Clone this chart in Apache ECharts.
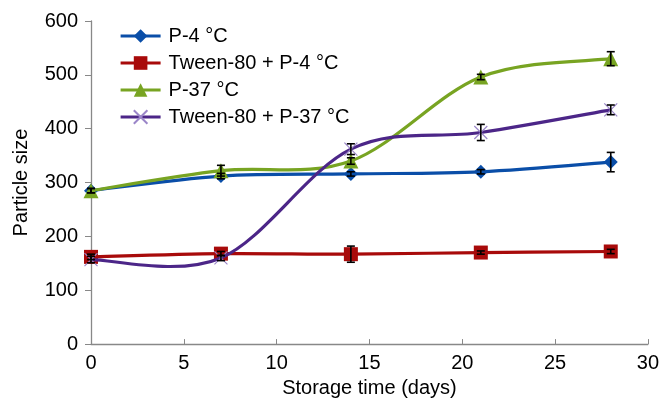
<!DOCTYPE html>
<html><head><meta charset="utf-8">
<script src="https://cdn.jsdelivr.net/npm/echarts@6/dist/echarts.min.js"></script>
<style>html,body{margin:0;padding:0;background:#fff}#c{width:662px;height:403px}</style>
</head><body><div id="c"></div>
<script>
const days = [0, 7, 14, 21, 28];
const seriesNames = ['P-4 °C', 'Tween-80 + P-4 °C', 'P-37 °C', 'Tween-80 + P-37 °C'];
const p4 = [285, 312, 316, 320, 338];
const tweenP4 = [162, 168, 167, 170, 172];
const p37 = [285, 322, 340, 496, 530];
const tweenP37 = [157, 160, 362, 393, 435];
const p4Err = [4, 5, 4, 4, 18];
const tweenP4Err = [5, 4, 15, 3, 4];
const p37Err = [4, 10, 6, 5, 13];
const tweenP37Err = [6, 5, 10, 15, 9];
const yTicks = [0, 100, 200, 300, 400, 500, 600];
const xTicks = [0, 5, 10, 15, 20, 25, 30];

const colors = ['#0a4ea8', '#a80a0a', '#78a422', '#4c2688'];
const symbols = ['diamond', 'rect', 'triangle', 'path://M0,0L10,10M10,0L0,10'];
const symSizes = [14, 14, 15, 13];
const values = [p4, tweenP4, p37, tweenP37];
const errs = [p4Err, tweenP4Err, p37Err, tweenP37Err];
const FONT = 'Liberation Sans';
const FS = 20;
const TENSION = 1 / 6;

const series = [];
values.forEach((vals, i) => {
  // smooth curve (Excel-style cardinal spline) through the data via the axis scales
  series.push({
    type: 'custom', silent: true, z: 2 + 2 * i,
    data: days.map((d, k) => [d, vals[k]]),
    renderItem: function (params, api) {
      const k = params.dataIndex;
      if (k >= days.length - 1) return null;
      const P = days.map((d, j) => api.coord([d, vals[j]]));
      const p0 = P[Math.max(k - 1, 0)], p1 = P[k], p2 = P[k + 1], p3 = P[Math.min(k + 2, P.length - 1)];
      return {
        type: 'bezierCurve',
        shape: {
          x1: p1[0], y1: p1[1], x2: p2[0], y2: p2[1],
          cpx1: p1[0] + (p2[0] - p0[0]) * TENSION, cpy1: p1[1] + (p2[1] - p0[1]) * TENSION,
          cpx2: p2[0] - (p3[0] - p1[0]) * TENSION, cpy2: p2[1] - (p3[1] - p1[1]) * TENSION
        },
        style: { stroke: colors[i], lineWidth: 3.2, fill: null }
      };
    }
  });
  const s = {
    name: seriesNames[i], type: 'line',
    data: days.map((d, k) => [d, vals[k]]),
    symbol: symbols[i], symbolSize: symSizes[i],
    lineStyle: { color: colors[i], width: 3.2, opacity: 0 },
    itemStyle: { color: colors[i] },
    z: 3 + 2 * i
  };
  if (i === 3) {
    s.itemStyle = { color: '#9b86c9', borderColor: '#9b86c9', borderWidth: 1.2 };
  }
  series.push(s);
});
values.forEach((vals, i) => {
  series.push({
    type: 'custom', silent: true, z: 20,
    data: days.map((d, k) => [d, vals[k] - errs[i][k], vals[k] + errs[i][k]]),
    renderItem: function (params, api) {
      const lo = api.coord([api.value(0), api.value(1)]);
      const hi = api.coord([api.value(0), api.value(2)]);
      const w = 4;
      const st = { stroke: '#000', lineWidth: 1.6 };
      return { type: 'group', children: [
        { type: 'line', shape: { x1: lo[0], y1: lo[1], x2: hi[0], y2: hi[1] }, style: st },
        { type: 'line', shape: { x1: lo[0] - w, y1: lo[1], x2: lo[0] + w, y2: lo[1] }, style: st },
        { type: 'line', shape: { x1: hi[0] - w, y1: hi[1], x2: hi[0] + w, y2: hi[1] }, style: st }
      ]};
    }
  });
});

const chart = echarts.init(document.getElementById('c'), null, { renderer: 'canvas' });
chart.setOption({
  animation: false,
  backgroundColor: '#fff',
  textStyle: { fontFamily: FONT },
  grid: { left: 91, right: 14, top: 21, bottom: 58 },
  legend: {
    data: seriesNames, orient: 'vertical', left: 119, top: 26, padding: 0,
    itemWidth: 40, itemHeight: 17, itemGap: 7,
    lineStyle: { opacity: 1, width: 3.2 },
    textStyle: { fontFamily: FONT, fontSize: FS, color: '#000', lineHeight: 19, padding: [0, 0, 0, 3] }
  },
  xAxis: {
    type: 'value', min: 0, max: 30, interval: 5,
    name: 'Storage time (days)', nameLocation: 'middle', nameGap: 33,
    nameTextStyle: { fontFamily: FONT, fontSize: FS, color: '#000' },
    axisLine: { lineStyle: { color: '#888', width: 1.3 } },
    axisTick: { show: true, inside: true, length: 5, lineStyle: { color: '#888' } },
    axisLabel: { fontFamily: FONT, fontSize: FS, color: '#000', margin: 9 },
    splitLine: { show: false }
  },
  yAxis: {
    type: 'value', min: 0, max: 600, interval: 100,
    name: 'Particle size', nameLocation: 'middle', nameGap: 60,
    nameTextStyle: { fontFamily: FONT, fontSize: FS, color: '#000' },
    axisLine: { show: true, lineStyle: { color: '#888', width: 1.3 } },
    axisTick: { show: true, length: 6, lineStyle: { color: '#888' } },
    axisLabel: { fontFamily: FONT, fontSize: FS, color: '#000', margin: 13 },
    splitLine: { show: false }
  },
  series: series
});
</script></body></html>
